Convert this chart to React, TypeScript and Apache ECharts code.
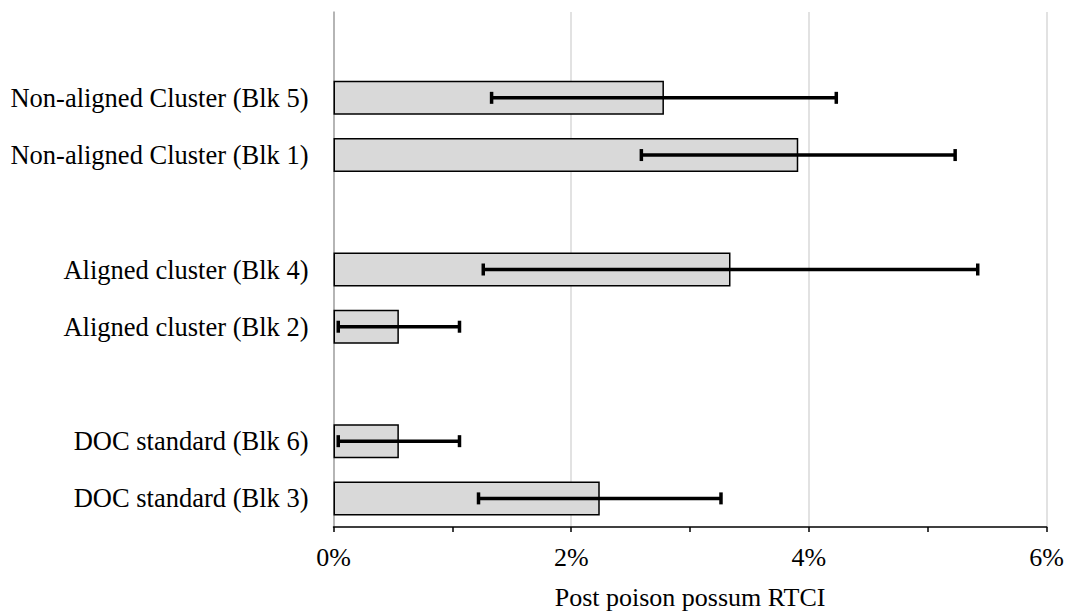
import React, { useEffect, useRef } from "react";
import * as echarts from "echarts";

const categories = [
  "DOC standard (Blk 3)",
  "DOC standard (Blk 6)",
  " ",
  "Aligned cluster (Blk 2)",
  "Aligned cluster (Blk 4)",
  "  ",
  "Non-aligned Cluster (Blk 1)",
  "Non-aligned Cluster (Blk 5)",
  "   ",
];
const means: (number | null)[] = [2.24, 0.55, null, 0.55, 3.34, null, 3.91, 2.78, null];
const errors: (number | null)[] = [1.02, 0.51, null, 0.51, 2.08, null, 1.32, 1.45, null];
const xTicks = [0, 2, 4, 6];

const FONT = "'Liberation Serif', 'Times New Roman', serif";

export default function App() {
  const ref = useRef<HTMLDivElement>(null);
  useEffect(() => {
    if (!ref.current) return;
    const chart = echarts.init(ref.current, null, { renderer: "svg" });
    const errData = means
      .map((m, i) =>
        m == null || errors[i] == null ? null : [m - (errors[i] as number), m + (errors[i] as number), i]
      )
      .filter((d) => d != null);
    chart.setOption({
      animation: false,
      grid: { left: 333.5, right: 19.3, top: 12, bottom: 85, containLabel: false },
      xAxis: {
        type: "value",
        min: xTicks[0],
        max: xTicks[xTicks.length - 1],
        interval: 2,
        name: "Post poison possum RTCI",
        nameLocation: "middle",
        nameGap: 57,
        nameTextStyle: { fontFamily: FONT, fontSize: 26, color: "#000" },
        axisLine: { show: true, lineStyle: { color: "#000", width: 1.5 } },
        axisTick: { show: true, length: 5, lineStyle: { color: "#000", width: 1.5 } },
        minorTick: { show: true, splitNumber: 2, length: 5, lineStyle: { color: "#000", width: 1.5 } },
        axisLabel: {
          formatter: "{value}%",
          fontFamily: FONT,
          fontSize: 26,
          color: "#000",
          margin: 17,
        },
        splitLine: { show: true, lineStyle: { color: "#d9d9d9", width: 1.5 } },
      },
      yAxis: {
        type: "category",
        data: categories,
        axisLine: { show: true, lineStyle: { color: "#a6a6a6", width: 1.5 } },
        axisTick: { show: false },
        axisLabel: { fontFamily: FONT, fontSize: 26.5, color: "#000", margin: 25 },
        splitLine: { show: false },
      },
      series: [
        {
          type: "bar",
          data: means,
          barWidth: 34,
          itemStyle: { color: "#d9d9d9", borderColor: "#000", borderWidth: 1.5 },
          z: 2,
        },
        {
          type: "custom",
          data: errData,
          encode: { x: [0, 1], y: 2 },
          z: 3,
          renderItem: (params: any, api: any) => {
            const lo = api.coord([api.value(0), api.value(2)]);
            const hi = api.coord([api.value(1), api.value(2)]);
            const cap = 6;
            const style = { stroke: "#000", lineWidth: 3.5 };
            return {
              type: "group",
              children: [
                { type: "line", shape: { x1: lo[0], y1: lo[1], x2: hi[0], y2: hi[1] }, style },
                { type: "line", shape: { x1: lo[0], y1: lo[1] - cap, x2: lo[0], y2: lo[1] + cap }, style },
                { type: "line", shape: { x1: hi[0], y1: hi[1] - cap, x2: hi[0], y2: hi[1] + cap }, style },
              ],
            };
          },
        },
      ],
    });
    return () => chart.dispose();
  }, []);
  return (
    <div
      ref={ref}
      style={{ position: "fixed", left: 0, top: 0, width: 1067, height: 615, background: "#fff" }}
    />
  );
}
